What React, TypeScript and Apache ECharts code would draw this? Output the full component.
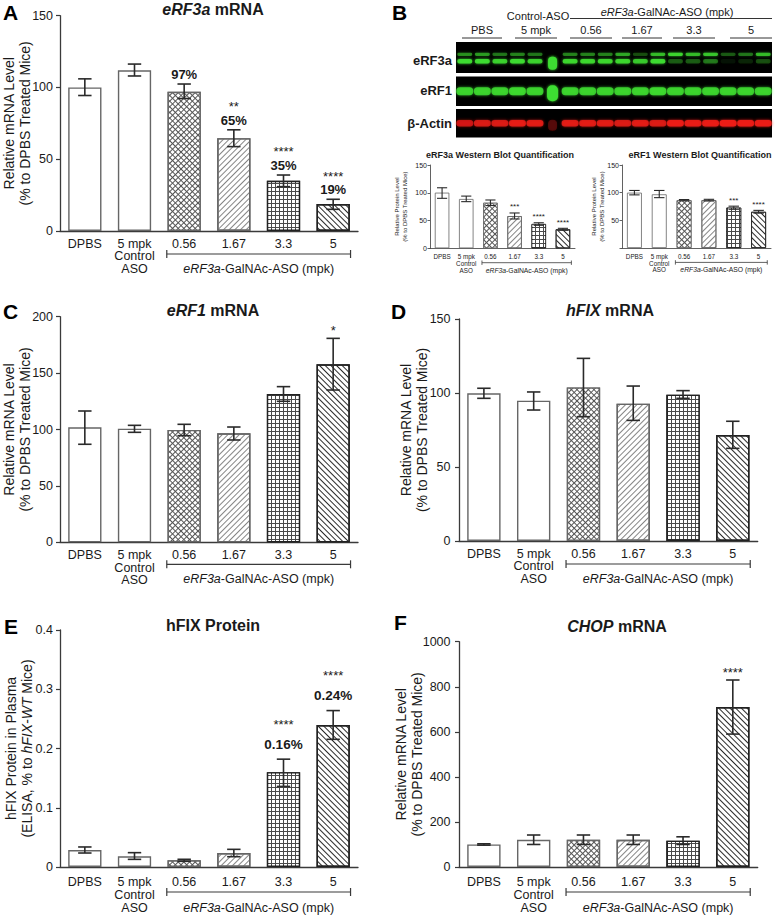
import React, { useEffect, useRef } from 'react';
import * as echarts from 'echarts';

const FONT = "'Liberation Sans', Arial, Helvetica, sans-serif";
const INK = '#1a1a1a';
const AXIS = '#3a3a3a';

// ---------- shared categories ----------
const categories = ['DPBS', '5 mpk\nControl\nASO', '0.56', '1.67', '3.3', '5'];
const patternOf = ['plain', 'plain', 'cross', 'diagUp', 'grid', 'diagDown'];

// ---------- A: eRF3a mRNA ----------
const aMean = [100, 112, 97, 64.7, 35, 18.8];
const aLow = [94.4, 108, 92.3, 58.8, 30.9, 15.1];
const aHigh = [106, 116.3, 102.4, 70.5, 39, 22.1];
const aStars = ['', '', '', '**', '****', '****'];
const aPct = ['', '', '97%', '65%', '35%', '19%'];

// ---------- B left: eRF3a western blot quantification ----------
const blMean = [100.2, 88.8, 82, 58, 43.8, 34.2];
const blLow = [90, 84, 77, 52.8, 41.4, 32.4];
const blHigh = [109, 94, 87, 63.6, 46, 36];
const blStars = ['', '', '', '***', '****', '****'];

// ---------- B right: eRF1 western blot quantification ----------
const brMean = [100, 97, 86.4, 86.4, 73, 65.4];
const brLow = [96, 91, 85.2, 85, 70, 63];
const brHigh = [104, 104, 87.6, 88, 75.6, 68];
const brStars = ['', '', '', '', '***', '****'];

// ---------- C: eRF1 mRNA ----------
const cMean = [101.9, 100.7, 99.6, 96.6, 131.5, 157.8];
const cLow = [86.9, 97.5, 94.5, 90.7, 125, 135];
const cHigh = [116.4, 103.7, 104.6, 102.2, 138, 180.8];
const cStars = ['', '', '', '', '', '*'];

// ---------- D: hFIX mRNA ----------
const dMean = [99.8, 94.8, 103.8, 92.8, 98.9, 71.6];
const dLow = [96.4, 88.5, 84, 81.5, 96.4, 62.6];
const dHigh = [103.2, 100.7, 123.4, 104.7, 101.6, 80.9];

// ---------- E: hFIX protein ----------
const eMean = [0.0287, 0.018, 0.0113, 0.0236, 0.16, 0.2397];
const eLow = [0.0236, 0.0129, 0.0096, 0.0174, 0.136, 0.2155];
const eHigh = [0.0338, 0.0242, 0.013, 0.0298, 0.182, 0.264];
const eStars = ['', '', '', '', '****', '****'];
const ePct = ['', '', '', '', '0.16%', '0.24%'];

// ---------- F: CHOP mRNA ----------
const fMean = [100, 121, 121, 121, 117, 710];
const fLow = [97, 100, 100, 100, 100, 590];
const fHigh = [103, 142, 142, 142, 134, 830];
const fStars = ['', '', '', '', '', '****'];

// ---------- B: western blot band intensities (18 lanes) ----------
const blotLanes = ['PBS 1', 'PBS 2', 'PBS 3', 'Ctrl 1', 'Ctrl 2', 'Ladder', '0.56 1', '0.56 2', '0.56 3', '1.67 1', '1.67 2', '1.67 3', '3.3 1', '3.3 2', '3.3 3', '5 1', '5 2', '5 3'];
const eRF3aUpper = [0.55, 0.6, 0.45, 0.5, 0.45, 0.12, 0.5, 0.5, 0.5, 0.65, 0.3, 0.75, 0.9, 0.75, 0.8, 0.35, 0.45, 0.75];
const eRF3aLower = [0.95, 0.95, 0.85, 0.95, 0.85, 1.0, 0.9, 0.9, 0.9, 0.9, 0.8, 0.95, 0.35, 0.35, 0.45, 0.08, 0.15, 0.3];
const eRF1Band = [0.85, 0.85, 0.85, 0.9, 0.85, 1.0, 0.85, 0.85, 0.85, 0.85, 0.85, 0.9, 0.85, 0.85, 0.85, 0.85, 0.85, 0.85];
const actinBand = [0.75, 0.8, 0.8, 0.9, 0.85, 0.3, 0.85, 0.85, 0.85, 0.8, 0.85, 0.8, 0.95, 0.9, 0.9, 1.0, 0.95, 0.95];
const blotGroups = ['PBS', '5 mpk', '0.56', '1.67', '3.3', '5'];
const blotRows = ['eRF3a', 'eRF1', 'β-Actin'];

function annText(stars: string[], pct: string[]) {
  return stars.map((s, i) => {
    const parts: string[] = [];
    if (s) parts.push(`{s|${s}}`);
    if (pct[i]) parts.push(`{p|${pct[i]}}`);
    return parts.join('\n');
  });
}
const none6 = ['', '', '', '', '', ''];

interface Panel {
  id: string; left: number; top: number; width: number; height: number;
  mean: number[]; low: number[]; high: number[]; ann: string[];
  max: number; interval: number; small: boolean; right: boolean;
  annGap: number; annLH: number; annSize: number; starSize: number;
  labMargin: number; labLH: number; brY: number; brLabY: number;
  hideZero?: boolean; fmt?: (v: number) => string;
}

const panels: Panel[] = [
  { id: 'A', left: 60, top: 15.7, width: 298, height: 215.3, mean: aMean, low: aLow, high: aHigh, ann: annText(aStars, aPct), max: 150, interval: 50, small: false, right: false, annGap: 3, annLH: 13.5, annSize: 13, starSize: 13, labMargin: 6.5, labLH: 12.5, brY: 23, brLabY: 38 },
  { id: 'BL', left: 430, top: 165, width: 145, height: 83.3, mean: blMean, low: blLow, high: blHigh, ann: annText(blStars, none6), max: 150, interval: 50, small: true, right: false, annGap: 2, annLH: 8, annSize: 8, starSize: 8, labMargin: 5, labLH: 6.7, brY: 14.4, brLabY: 21.7 },
  { id: 'BR', left: 622, top: 165, width: 149, height: 83, mean: brMean, low: brLow, high: brHigh, ann: annText(brStars, none6), max: 150, interval: 50, small: true, right: true, annGap: 2, annLH: 8, annSize: 8, starSize: 8, labMargin: 5, labLH: 6.7, brY: 14.4, brLabY: 21.7, hideZero: true },
  { id: 'C', left: 60, top: 316.7, width: 298, height: 225.6, mean: cMean, low: cLow, high: cHigh, ann: annText(cStars, none6), max: 200, interval: 50, small: false, right: false, annGap: 1, annLH: 13.5, annSize: 13, starSize: 13, labMargin: 6.5, labLH: 12.5, brY: 22, brLabY: 37 },
  { id: 'D', left: 459, top: 319, width: 298.7, height: 222, mean: dMean, low: dLow, high: dHigh, ann: none6, max: 150, interval: 50, small: false, right: true, annGap: 3, annLH: 13.5, annSize: 13, starSize: 13, labMargin: 6.5, labLH: 12.5, brY: 23, brLabY: 38 },
  { id: 'E', left: 60, top: 630, width: 298, height: 237, mean: eMean, low: eLow, high: eHigh, ann: annText(eStars, ePct), max: 0.4, interval: 0.1, small: false, right: false, annGap: 5, annLH: 20, annSize: 13.5, starSize: 13, labMargin: 8.5, labLH: 13, brY: 25, brLabY: 41, fmt: (v: number) => (v === 0 ? '0' : v.toFixed(1)) },
  { id: 'F', left: 459, top: 641.7, width: 298.7, height: 225.3, mean: fMean, low: fLow, high: fHigh, ann: annText(fStars, none6), max: 1000, interval: 200, small: false, right: true, annGap: 1, annLH: 13.5, annSize: 13, starSize: 13, labMargin: 8.5, labLH: 13, brY: 25, brLabY: 41 },
];

function decalFor(kind: string) {
  switch (kind) {
    case 'cross':
      return { color: '#555', decal: { symbol: 'rect', symbolSize: 1, dashArrayX: [2.6, 1], dashArrayY: [2.6, 1], rotation: Math.PI / 4, color: '#ffffff' } };
    case 'diagUp':
      return { color: '#ffffff', decal: { symbol: 'rect', symbolSize: 1, dashArrayX: [1, 0], dashArrayY: [1, 2.6], rotation: -Math.PI / 4, color: '#858585' } };
    case 'grid':
      return { color: '#4a4a4a', decal: { symbol: 'rect', symbolSize: 1, dashArrayX: [2.4, 0.9], dashArrayY: [2.4, 0.9], rotation: 0, color: '#ffffff' } };
    case 'diagDown':
      return { color: '#ffffff', decal: { symbol: 'rect', symbolSize: 1, dashArrayX: [1, 0], dashArrayY: [1, 2.3], rotation: Math.PI / 4, color: '#2a2a2a' } };
    default:
      return { color: '#ffffff' };
  }
}

function buildOption() {
  const grids: any[] = [];
  const xAxes: any[] = [];
  const yAxes: any[] = [];
  const series: any[] = [];
  const graphics: any[] = [];

  panels.forEach((p, gi) => {
    const sm = p.small;
    grids.push({ left: p.left, top: p.top, width: p.width, height: p.height, containLabel: false });
    xAxes.push({
      gridIndex: gi, type: 'category', data: categories,
      axisLine: { lineStyle: { color: AXIS, width: sm ? 0.8 : 1.3 } },
      axisTick: { alignWithLabel: true, length: sm ? 2.5 : 4, lineStyle: { color: AXIS, width: sm ? 0.8 : 1.2 } },
      axisLabel: { interval: 0, fontSize: sm ? 6.3 : 12.5, lineHeight: p.labLH, margin: p.labMargin, color: INK, fontFamily: FONT },
      splitLine: { show: false },
    });
    yAxes.push({
      gridIndex: gi, type: 'value', min: 0, max: p.max, interval: p.interval,
      axisLine: { show: true, lineStyle: { color: AXIS, width: sm ? 0.8 : 1.3 } },
      axisTick: { show: true, length: sm ? 2.5 : 4, lineStyle: { color: AXIS, width: sm ? 0.8 : 1.2 } },
      axisLabel: {
        fontSize: sm ? 7 : 12.5, color: INK, fontFamily: FONT, margin: sm ? 3 : p.right ? 8.5 : 7,
        formatter: (v: number) => (p.hideZero && v === 0 ? '' : p.fmt ? p.fmt(v) : String(v)),
      },
      splitLine: { show: false },
    });
    series.push({
      type: 'bar', xAxisIndex: gi, yAxisIndex: gi, barWidth: sm ? '60%' : '67%', z: 2,
      data: p.mean.map((v, i) => {
        const d = decalFor(patternOf[i]);
        const dark = i >= 4;
        return {
          value: v,
          itemStyle: { color: d.color, decal: d.decal, borderColor: dark ? '#222' : '#666', borderWidth: sm ? 0.8 : 1.4 },
        };
      }),
    });
    const capFrac = sm ? 0.42 : 0.27;
    const lw = sm ? 1.1 : 1.6;
    series.push({
      type: 'custom', xAxisIndex: gi, yAxisIndex: gi, z: 5,
      data: p.mean.map((_, i) => [i, p.low[i], p.high[i]]),
      renderItem: (params: any, api: any) => {
        const x = api.value(0);
        const lo = api.coord([x, api.value(1)]);
        const hi = api.coord([x, api.value(2)]);
        const w = (api.size([1, 0])[0] * capFrac) / 2;
        const st = { stroke: '#2a2a2a', lineWidth: lw };
        return {
          type: 'group',
          children: [
            { type: 'line', shape: { x1: lo[0], y1: lo[1], x2: hi[0], y2: hi[1] }, style: st },
            { type: 'line', shape: { x1: hi[0] - w, y1: hi[1], x2: hi[0] + w, y2: hi[1] }, style: st },
            { type: 'line', shape: { x1: lo[0] - w, y1: lo[1], x2: lo[0] + w, y2: lo[1] }, style: st },
          ],
        };
      },
    });
    const texts = p.ann;
    series.push({
      type: 'custom', xAxisIndex: gi, yAxisIndex: gi, z: 6,
      data: p.mean.map((_, i) => [i, p.high[i]]),
      renderItem: (params: any, api: any) => {
        const t = texts[params.dataIndex];
        if (!t) return null;
        const c = api.coord([api.value(0), api.value(1)]);
        return {
          type: 'text', x: c[0], y: c[1] - p.annGap,
          style: {
            text: t, align: 'center', verticalAlign: 'bottom',
            rich: {
              s: { fontSize: p.starSize, fontFamily: FONT, fill: INK, lineHeight: p.annLH },
              p: { fontSize: p.annSize, fontFamily: FONT, fontWeight: 'bold', fill: INK, lineHeight: p.annLH },
            },
          },
        };
      },
    });

    // bracket under the treated groups
    const catW = p.width / 6;
    const x1 = p.left + 2.5 * catW - 0.35 * catW;
    const x2 = p.left + 5.5 * catW + 0.35 * catW;
    const by = p.top + p.height + p.brY;
    const cap = sm ? 2.2 : 4;
    const bst = { stroke: AXIS, lineWidth: sm ? 0.8 : 1.2 };
    graphics.push({ type: 'line', shape: { x1, y1: by, x2, y2: by }, style: bst });
    graphics.push({ type: 'line', shape: { x1, y1: by - cap, x2: x1, y2: by + cap }, style: bst });
    graphics.push({ type: 'line', shape: { x1: x2, y1: by - cap, x2, y2: by + cap }, style: bst });
    const fs = sm ? 6.8 : 12.5;
    graphics.push({
      type: 'text', x: (x1 + x2) / 2, y: p.top + p.height + p.brLabY,
      style: {
        text: '{i|eRF3a}{n|-GalNAc-ASO (mpk)}', align: 'center', verticalAlign: 'middle',
        rich: {
          i: { fontSize: fs, fontStyle: 'italic', fontFamily: FONT, fill: INK },
          n: { fontSize: fs, fontFamily: FONT, fill: INK },
        },
      },
    });
  });

  // ---------- western blot rows ----------
  const blotGeom = [
    { top: 42, height: 31 },
    { top: 76.5, height: 29.5 },
    { top: 109, height: 28.5 },
  ];
  const base = panels.length;
  blotGeom.forEach((g, k) => {
    const gi = base + k;
    grids.push({ left: 456, top: g.top, width: 316, height: g.height, show: true, backgroundColor: '#000', borderWidth: 0, containLabel: false });
    xAxes.push({ gridIndex: gi, type: 'category', data: blotLanes, show: false });
    yAxes.push({ gridIndex: gi, type: 'value', min: 0, max: 1, show: false });
  });
  const GREEN = [62, 222, 48];
  const RED = [238, 28, 24];
  const LADDER = 5;
  const bandSeries = (gi: number, vals: number[], yPos: number, h: number, wf: number, rgb: number[], ladderH: number, ladderW: number) => ({
    type: 'custom', xAxisIndex: gi, yAxisIndex: gi, z: 3,
    data: vals.map((v, i) => [i, yPos, v]),
    renderItem: (params: any, api: any) => {
      const lane = api.value(0);
      const a = api.value(2);
      const c = api.coord([lane, api.value(1)]);
      const bw = api.size([1, 0])[0];
      const isL = lane === LADDER;
      const hh = isL ? ladderH : h;
      const ww = isL ? ladderW : bw * wf;
      const col = `rgba(${rgb[0]},${rgb[1]},${rgb[2]},${a})`;
      return {
        type: 'rect',
        shape: { x: c[0] - ww / 2, y: c[1] - hh / 2 + (isL ? 2 : 0), width: ww, height: hh, r: Math.min(hh, ww) / 2.2 },
        style: { fill: col, shadowBlur: 3, shadowColor: col },
      };
    },
  });
  series.push(bandSeries(base, eRF3aUpper, 0.6, 3.2, 0.85, GREEN, 2, 3));
  series.push(bandSeries(base, eRF3aLower, 0.38, 4.5, 0.85, GREEN, 13, 9));
  series.push(bandSeries(base + 1, eRF1Band, 0.5, 8, 0.96, GREEN, 16, 11));
  series.push(bandSeries(base + 2, actinBand, 0.5, 6.5, 0.96, RED, 11, 9));

  // ---------- texts ----------
  const letter = (t: string, x: number, y: number) => ({
    type: 'text', x, y, style: { text: t, fontSize: 21, fontWeight: 'bold', fontFamily: FONT, fill: '#000', align: 'left', verticalAlign: 'top' },
  });
  graphics.push(letter('A', 3, 2), letter('B', 392, 2), letter('C', 3, 301), letter('D', 391, 301), letter('E', 4, 616), letter('F', 394, 612));

  const tRich = (fs: number) => ({
    i: { fontSize: fs, fontWeight: 'bold', fontStyle: 'italic', fontFamily: FONT, fill: INK },
    b: { fontSize: fs, fontWeight: 'bold', fontFamily: FONT, fill: INK },
  });
  const title = (t: string, x: number, y: number, fs = 16) => ({
    type: 'text', x, y, style: { text: t, align: 'center', verticalAlign: 'middle', rich: tRich(fs) },
  });
  graphics.push(
    title('{i|eRF3a}{b| mRNA}', 213, 9.5),
    title('{i|eRF1}{b| mRNA}', 213, 310),
    title('{i|hFIX}{b| mRNA}', 610, 310),
    title('{b|hFIX Protein}', 213, 625),
    title('{i|CHOP}{b| mRNA}', 617, 626),
    title('{b|eRF3a Western Blot Quantification}', 500, 155, 9),
    title('{b|eRF1 Western Blot Quantification}', 700, 155, 9),
  );

  const yname = (t: string, x: number, y: number, fs: number, lh: number) => ({
    type: 'text', x, y, rotation: Math.PI / 2,
    style: {
      text: t, align: 'center', verticalAlign: 'middle',
      rich: {
        n: { fontSize: fs, fontFamily: FONT, fill: INK, lineHeight: lh },
        i: { fontSize: fs, fontFamily: FONT, fontStyle: 'italic', fill: INK, lineHeight: lh },
      },
    },
  });
  const mrna = '{n|Relative mRNA Level}\n{n|(% to DPBS Treated Mice)}';
  const prot = '{n|Relative Protein Level}\n{n|(% to DPBS Treated Mice)}';
  graphics.push(
    yname(mrna, 17, 123.3, 14, 16),
    yname(mrna, 17, 429.5, 14, 16),
    yname(mrna, 414, 430, 14, 16),
    yname('{n|hFIX Protein in Plasma}\n{n|(ELISA, % to }{i|hFIX-WT}{n| Mice)}', 19, 748.5, 14, 16),
    yname(mrna, 409, 754.3, 14, 16),
    yname(prot, 401, 206.6, 6, 7.5),
    yname(prot, 598, 206.5, 6, 7.5),
  );

  // blot header
  const hs = { fontSize: 11, fontFamily: FONT, fill: INK, align: 'center', verticalAlign: 'middle' };
  graphics.push({ type: 'text', x: 538, y: 16, style: { ...hs, text: 'Control-ASO' } });
  graphics.push({
    type: 'text', x: 667, y: 11.5,
    style: {
      text: '{i|eRF3a}{n|-GalNAc-ASO (mpk)}', align: 'center', verticalAlign: 'middle',
      rich: {
        i: { fontSize: 11, fontStyle: 'italic', fontFamily: FONT, fill: INK },
        n: { fontSize: 11, fontFamily: FONT, fill: INK },
      },
    },
  });
  graphics.push({ type: 'line', shape: { x1: 570, y1: 18.5, x2: 772, y2: 18.5 }, style: { stroke: '#333', lineWidth: 1 } });
  const groupSpans = [[462, 502], [515, 557], [570, 612], [622, 662], [673, 715], [730, 772]];
  blotGroups.forEach((g, i) => {
    const [a, b] = groupSpans[i];
    graphics.push({ type: 'text', x: (a + b) / 2, y: 29.5, style: { ...hs, text: g } });
    graphics.push({ type: 'line', shape: { x1: a, y1: 38, x2: b, y2: 38 }, style: { stroke: '#333', lineWidth: 1 } });
  });
  const rowY = [60, 90.5, 123];
  blotRows.forEach((r, i) => {
    graphics.push({
      type: 'text', x: 452, y: rowY[i],
      style: { text: r, fontSize: 13, fontWeight: 'bold', fontFamily: FONT, fill: INK, align: 'right', verticalAlign: 'middle' },
    });
  });

  return {
    animation: false,
    backgroundColor: '#ffffff',
    textStyle: { fontFamily: FONT },
    grid: grids,
    xAxis: xAxes,
    yAxis: yAxes,
    series,
    graphic: { elements: graphics },
  };
}

export default function App() {
  const ref = useRef<HTMLDivElement>(null);
  useEffect(() => {
    if (!ref.current) return;
    const chart = echarts.init(ref.current, null, { renderer: 'svg' });
    chart.setOption(buildOption() as any);
    return () => chart.dispose();
  }, []);
  return (
    <div
      ref={ref}
      style={{ position: 'absolute', left: 0, top: 0, width: 777, height: 915, background: '#fff' }}
    />
  );
}
